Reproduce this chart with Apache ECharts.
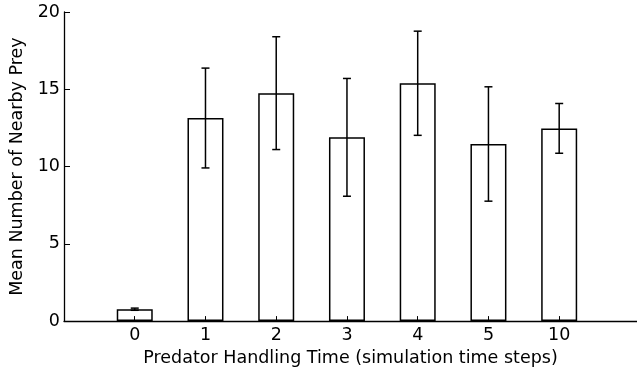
<!DOCTYPE html>
<html>
<head>
<meta charset="utf-8">
<script src="https://cdn.jsdelivr.net/npm/echarts@6/dist/echarts.min.js"></script>
<style>html,body{margin:0;padding:0;background:#fff}#c{width:637px;height:372px}</style>
</head>
<body>
<div id="c"></div>
<script>
var categories = ['0', '1', '2', '3', '4', '5', '10'];
var means = [0.77, 13.14, 14.75, 11.89, 15.39, 11.46, 12.47];
var errors = [0.07, 3.23, 3.65, 3.81, 3.37, 3.70, 1.61];
var yTicks = [0, 5, 10, 15, 20];

var positions = categories.map(function (c, i) { return i; });
var barData = means.map(function (m, i) { return [positions[i], m]; });
var errData = means.map(function (m, i) { return [positions[i], m - errors[i], m + errors[i]]; });

var FONT = 'DejaVu Sans';
var FS = 17.5;
var chart = echarts.init(document.getElementById('c'), null, {renderer: 'canvas'});
chart.setOption({
  animation: false,
  backgroundColor: '#fff',
  grid: {left: 64, right: 0, top: 12, bottom: 49, containLabel: false},
  xAxis: {
    type: 'value',
    min: -1, max: 7.1, interval: 1,
    name: 'Predator Handling Time (simulation time steps)',
    nameLocation: 'middle',
    nameGap: 24,
    nameTextStyle: {fontFamily: FONT, fontSize: FS, color: '#000'},
    axisLine: {show: true, onZero: false, lineStyle: {color: '#000', width: 1.3}},
    axisTick: {show: true, inside: true, length: 5, customValues: positions, lineStyle: {color: '#000', width: 1}},
    axisLabel: {fontFamily: FONT, fontSize: FS, color: '#000', margin: 5, customValues: positions,
      formatter: function (v) { return categories[Math.round(v)] || ''; }},
    splitLine: {show: false}
  },
  yAxis: {
    type: 'value',
    min: yTicks[0], max: yTicks[yTicks.length - 1], interval: 5,
    name: 'Mean Number of Nearby Prey',
    nameLocation: 'middle',
    nameGap: 31,
    nameTextStyle: {fontFamily: FONT, fontSize: FS, color: '#000'},
    axisLine: {show: true, onZero: false, lineStyle: {color: '#000', width: 1.3}},
    axisTick: {show: true, inside: true, length: 6, lineStyle: {color: '#000', width: 1}},
    axisLabel: {fontFamily: FONT, fontSize: FS, color: '#000', margin: 4},
    splitLine: {show: false}
  },
  series: [
    {
      type: 'bar',
      data: barData,
      barWidth: 36,
      itemStyle: {color: 'rgba(255,255,255,0)', borderColor: '#000', borderWidth: 1.5},
      z: 2
    },
    {
      type: 'custom',
      data: errData,
      z: 3,
      renderItem: function (params, api) {
        var x = api.value(0);
        var lo = api.coord([x, api.value(1)]);
        var hi = api.coord([x, api.value(2)]);
        var hw = 4;
        var st = {stroke: '#000', lineWidth: 1.5};
        return {
          type: 'group',
          children: [
            {type: 'line', shape: {x1: lo[0], y1: lo[1], x2: hi[0], y2: hi[1]}, style: st},
            {type: 'line', shape: {x1: lo[0] - hw, y1: lo[1], x2: lo[0] + hw, y2: lo[1]}, style: st},
            {type: 'line', shape: {x1: hi[0] - hw, y1: hi[1], x2: hi[0] + hw, y2: hi[1]}, style: st}
          ]
        };
      }
    }
  ]
});
</script>
</body>
</html>
